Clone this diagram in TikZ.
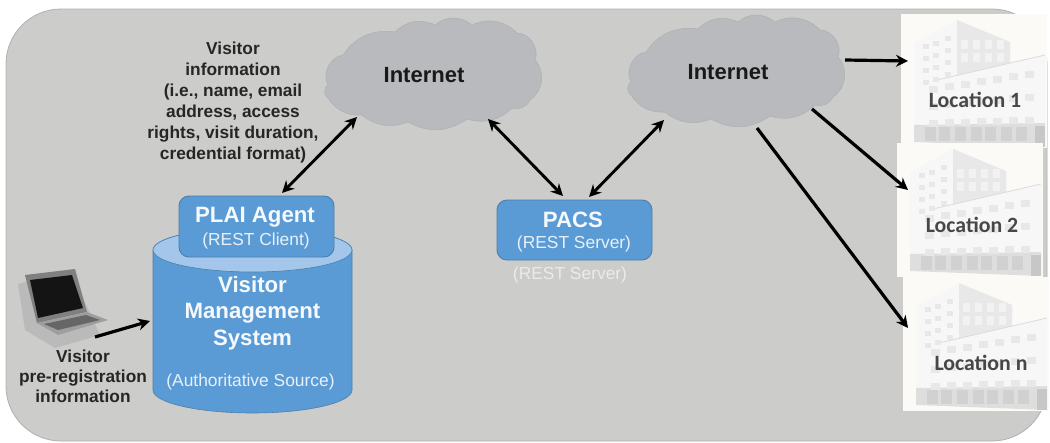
\documentclass[tikz,border=0pt]{standalone}
\usepackage{fontspec}
\setmainfont{Liberation Sans}
\newfontfamily\locfont{Carlito}
\usetikzlibrary{arrows.meta,shapes.geometric}
\definecolor{bgc}{HTML}{CCCCCA}
\definecolor{bgedge}{HTML}{B0B0B0}
\definecolor{cloudc}{HTML}{B9BABD}
\definecolor{cloude}{HTML}{B0B1B4}
\definecolor{bluec}{HTML}{5B9BD5}
\definecolor{bluee}{HTML}{4A7FAE}
\definecolor{bluetop}{HTML}{A3C6EA}
\definecolor{panelc}{HTML}{FBFAF6}
\tikzset{
  x=1pt,y=-1pt,
  bluebox/.style={draw=bluee,line width=0.9pt,fill=bluec,rounded corners=10pt,inner sep=0pt,minimum width=155pt},
  arrowone/.style={-{Stealth[length=12pt,width=12pt]},line width=3.2pt,black},
  arrowtwo/.style={{Stealth[length=12pt,width=12pt]}-{Stealth[length=12pt,width=12pt]},line width=2.9pt,black},
  darktext/.style={font=\bfseries\fontsize{17.3}{21}\selectfont,text=black!85,align=center,inner sep=0pt},
  whitebig/.style={font=\bfseries\fontsize{22.2}{26.5}\selectfont,text=white!94!bluec,align=center,inner sep=0pt},
  whitesmall/.style={font=\fontsize{17.4}{20}\selectfont,text=white!85!bluec,inner sep=0pt},
  nettext/.style={font=\bfseries\fontsize{22}{26}\selectfont,text=black!90,inner sep=0pt},
  loctext/.style={font=\locfont\bfseries\fontsize{21.8}{26}\selectfont,text=black!72,inner sep=0pt},
  cloudshape/.style={fill=cloudc,draw=cloude,line width=0.6pt},
  building/.pic={
    \fill[panelc] (0,0) rectangle (146,134);
    \fill[black!3] (13,29) -- (56,6) -- (109,28) -- (109,60) -- (36,80) -- (13,111) -- cycle;
    \fill[black!9] (56,6) -- (109,28) -- (109,50) -- (56,64) -- cycle;
    \fill[black!3] (36,66) -- (144,41) -- (144,111) -- (13,112) -- (18,78) -- cycle;
    \draw[black!14,line width=0.8pt] (36,66) -- (144,41);
    \fill[black!13] (13,111) -- (144,109) -- (144,133) -- (13,128) -- cycle;
    \fill[black!22] (134,112) rectangle (144,133);
    \foreach \cx in {24,38,54,70,84,100,115}{\fill[black!18] (\cx,113) rectangle ++(11,14);}
    \foreach \ry in {0,1,2}{
      \foreach \cx in {28,44,60,76,92,108,124}{
        \fill[black!9] (\cx,{72+\ry*17-(\cx-28)*0.16*(1-\ry*0.4)}) rectangle ++(9,7);
      }
    }
    \foreach \ry in {0,1,2,3}{
      \foreach \cx in {22,32,44}{
        \fill[black!9] (\cx,{30+\ry*12-(\cx-22)*0.35}) rectangle ++(6,5);
      }
    }
    \foreach \ry in {0,1}{
      \foreach \cx in {60,72,84,96}{
        \fill[black!5] (\cx,{26+\ry*13}) rectangle ++(7,9);
      }
    }
  },
}
\newcommand{\cloudpath}{
  (328,85) to[bend left=55] (343,55) to[bend left=32] (395,32) to[bend left=35] (435,25)
  to[bend left=40] (472,25) to[bend left=35] (517,33) to[bend left=55] (535,60)
  to[bend left=50] (530,100) to[bend left=40] (512,108) to[bend left=30] (467,119)
  to[bend left=32] (408,122) to[bend left=30] (362,115) to[bend left=30] (328,98)
  to[bend left=60] cycle
}
\begin{document}
\begin{tikzpicture}
\useasboundingbox (0,0) rectangle (1050,442);
\fill[white] (0,0) rectangle (1050,442);
% background
\draw[fill=bgc,draw=bgedge,line width=0.8pt,rounded corners=55pt] (6,9) rectangle (1047,441);
% clouds
\fill[cloudshape] \cloudpath;
\begin{scope}[shift={(303,-3)}]
\fill[cloudshape] \cloudpath;
\end{scope}
\node[nettext] (netA) at (424,75) {Internet};
\node[nettext] (netB) at (728,72) {Internet};
% buildings
\pic at (901,14) {building};
\pic at (897,143) {building};
\pic at (903,277) {building};
\node[loctext] (locA) at (975,100) {Location 1};
\node[loctext] (locB) at (972,225) {Location 2};
\node[loctext] (locC) at (981,363) {Location n};
% cylinder
\draw[fill=bluec,draw=bluee,line width=0.6pt] (153,250) -- (153,390)
  arc[start angle=180,end angle=360,x radius=99.5pt,y radius=23pt] -- (352,250)
  arc[start angle=0,end angle=180,x radius=99.5pt,y radius=22pt] -- cycle;
\draw[fill=bluetop,draw=bluee,line width=0.6pt] (252.5,250) ellipse[x radius=99.5pt,y radius=22pt];
\node[whitebig] (vmstext) at (252.5,313) {Visitor\\Management\\System};
\node[whitesmall] (vmssrc) at (250.5,382) {(Authoritative Source)};
% boxes
\node[bluebox,minimum height=61pt,align=center] (plai) at (256.5,226.5) {};
\node[whitebig] (plaiA) at (255,217) {PLAI Agent};
\node[whitesmall] (plaiB) at (256,241) {(REST Client)};
\node[bluebox,minimum height=60pt] (pacs) at (574.5,230) {};
\node[whitebig] (pacsA) at (573,220) {PACS};
\node[whitesmall] (pacsB) at (574,243.5) {(REST Server)};
\node[whitesmall,text=black!8] (ghost) at (570,275) {(REST Server)};
% laptop
\fill[black!27] (18,284) -- (70,270) -- (100,335) -- (55,348) -- (25,330) -- cycle;
\fill[black!50] (25,275) -- (75,269) -- (87,312) -- (37,323) -- cycle;
\fill[black!92] (30,280) -- (72,275) -- (83,308) -- (38,318) -- cycle;
\fill[black!38] (37,323) -- (87,312) -- (108,320) -- (58,335) -- cycle;
\fill[black!60] (44,324) -- (86,315) -- (100,320) -- (58,330) -- cycle;
\coordinate (laptopout) at (95,337);
\coordinate (vmsin) at (150,321);
\draw[arrowone] (laptopout) -- (vmsin);
% texts
\node[darktext] (visinfo) at (233,103) {Visitor\\information\\(i.e., name, email\\address, access\\rights, visit duration,\\credential format)};
\node[darktext,font=\bfseries\fontsize{17.3}{20}\selectfont] (prereg) at (83,376) {Visitor\\pre-registration\\information};
% connector ends
\coordinate (plaitop) at (282,193);
\coordinate (netAsw) at (357,117);
\coordinate (netAse) at (488,119);
\coordinate (pacstopl) at (563,196);
\coordinate (pacstopr) at (589,197);
\coordinate (netBsw) at (664,120);
\coordinate (netBe) at (845,60);
\coordinate (locAin) at (908,61);
\coordinate (netBse) at (812,109);
\coordinate (locBin) at (908,190);
\coordinate (netBs) at (757,128);
\coordinate (locCin) at (908,328);
\draw[arrowtwo] (plaitop) -- (netAsw);
\draw[arrowtwo] (netAse) -- (pacstopl);
\draw[arrowtwo] (pacstopr) -- (netBsw);
\draw[arrowone] (netBe) -- (locAin);
\draw[arrowone] (netBse) -- (locBin);
\draw[arrowone] (netBs) -- (locCin);
\end{tikzpicture}
\end{document}
